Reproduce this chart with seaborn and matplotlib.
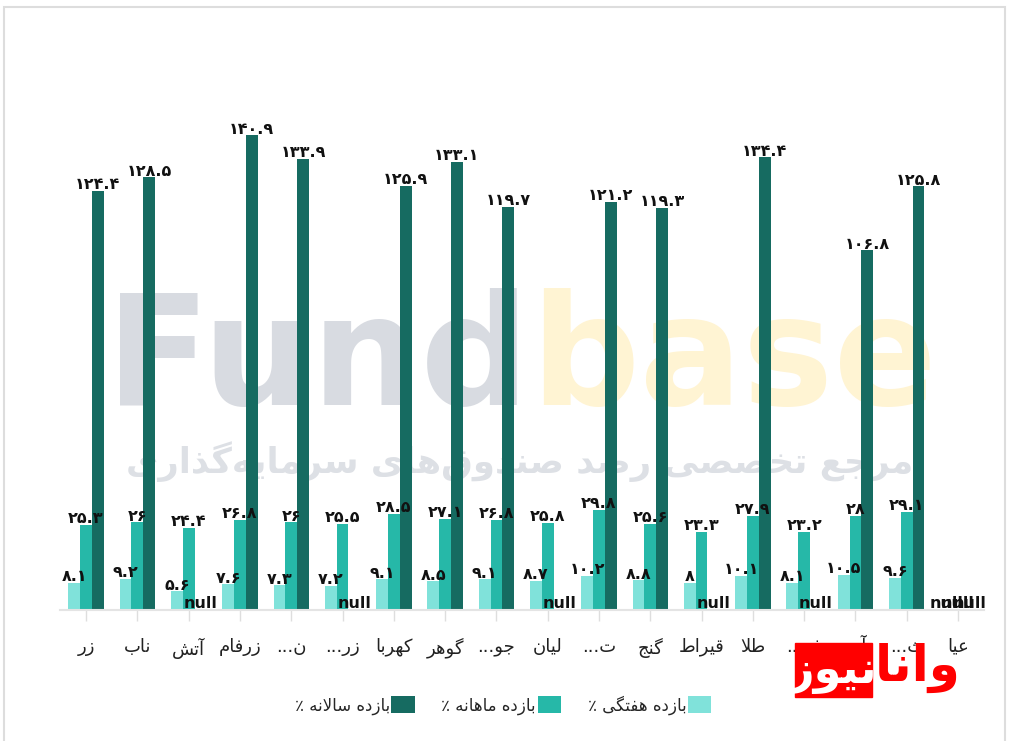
import numpy as np
import pandas as pd
import seaborn as sns
import matplotlib.pyplot as plt
from matplotlib.patches import Patch, Rectangle

categories = ["زر", "ناب", "آتش", "زرفام", "ن...", "زر...", "کهربا", "گوهر", "جو...",
              "لیان", "ت...", "گنج", "قیراط", "طلا", "ف...", "آ...", "ث...", "عیا"]
weekly = [8.1, 9.2, 5.6, 7.6, 7.3, 7.2, 9.1, 8.5, 9.1, 8.7, 10.2, 8.8, 8, 10.1, 8.1, 10.5, 9.6, None]
monthly = [25.3, 26, 24.4, 26.8, 26, 25.5, 28.5, 27.1, 26.8, 25.8, 29.8, 25.6, 23.3, 27.9, 23.2, 28, 29.1, None]
annual = [124.4, 128.5, None, 140.9, 133.9, None, 125.9, 133.1, 119.7, None, 121.2, 119.3, None,
          134.4, None, 106.8, 125.8, None]
series = ["بازده هفتگی ٪", "بازده ماهانه ٪", "بازده سالانه ٪"]
colors = ["#80e2da", "#26b8a8", "#166b61"]

# simple persian shaping: (isolated, final, initial, medial)
FORMS = {
    "ا": (0xFE8D, 0xFE8E), "آ": (0xFE81, 0xFE82), "د": (0xFEA9, 0xFEAA), "ذ": (0xFEAB, 0xFEAC),
    "ر": (0xFEAD, 0xFEAE), "ز": (0xFEAF, 0xFEB0), "و": (0xFEED, 0xFEEE),
    "ب": (0xFE8F, 0xFE90, 0xFE91, 0xFE92), "ت": (0xFE95, 0xFE96, 0xFE97, 0xFE98),
    "ث": (0xFE99, 0xFE9A, 0xFE9B, 0xFE9C), "ج": (0xFE9D, 0xFE9E, 0xFE9F, 0xFEA0),
    "خ": (0xFEA5, 0xFEA6, 0xFEA7, 0xFEA8), "س": (0xFEB1, 0xFEB2, 0xFEB3, 0xFEB4),
    "ش": (0xFEB5, 0xFEB6, 0xFEB7, 0xFEB8), "ص": (0xFEB9, 0xFEBA, 0xFEBB, 0xFEBC),
    "ط": (0xFEC1, 0xFEC2, 0xFEC3, 0xFEC4), "ع": (0xFEC9, 0xFECA, 0xFECB, 0xFECC),
    "ف": (0xFED1, 0xFED2, 0xFED3, 0xFED4), "ق": (0xFED5, 0xFED6, 0xFED7, 0xFED8),
    "ل": (0xFEDD, 0xFEDE, 0xFEDF, 0xFEE0), "م": (0xFEE1, 0xFEE2, 0xFEE3, 0xFEE4),
    "ن": (0xFEE5, 0xFEE6, 0xFEE7, 0xFEE8), "ه": (0xFEE9, 0xFEEA, 0xFEEB, 0xFEEC),
    "ی": (0xFBFC, 0xFBFD, 0xFBFE, 0xFBFF), "ک": (0xFB8E, 0xFB8F, 0xFB90, 0xFB91),
    "گ": (0xFB92, 0xFB93, 0xFB94, 0xFB95),
}


def dual(c):
    return c in FORMS and len(FORMS[c]) == 4


def fa(text):
    chars = list(text)
    out = []
    i = 0
    while i < len(chars):
        c = chars[i]
        prev = chars[i - 1] if i > 0 else None
        nxt = chars[i + 1] if i + 1 < len(chars) else None
        if c not in FORMS:
            if c != "\u200c":
                out.append(c)
            i += 1
            continue
        jp = dual(prev)
        if c == "ل" and nxt in ("ا", "آ"):
            lig = (0xFEFB, 0xFEFC) if nxt == "ا" else (0xFEF5, 0xFEF6)
            out.append(chr(lig[1] if jp else lig[0]))
            i += 2
            continue
        f = FORMS[c]
        jn = dual(c) and nxt in FORMS
        if jp and jn:
            g = f[3]
        elif jp:
            g = f[1]
        elif jn:
            g = f[2]
        else:
            g = f[0]
        out.append(chr(g))
        i += 1
    return "".join(reversed(out))


def fa_num(v):
    if v is None or pd.isna(v):
        return "null"
    return "{:g}".format(v).translate(str.maketrans("0123456789", "۰۱۲۳۴۵۶۷۸۹"))


sns.set_style("white")
plt.rcParams["font.family"] = ["DejaVu Sans"]

rows = []
for name, vals in zip(series, [weekly, monthly, annual]):
    for cat, v in zip(categories, vals):
        rows.append({"cat": cat, "series": name, "value": np.nan if v is None else v})
df = pd.DataFrame(rows)
df["plot"] = df["value"].fillna(0)

fig = plt.figure(figsize=(10.19, 7.41), dpi=100)
ax = fig.add_axes([60.4 / 1019, 1 - 610 / 741, 923.3 / 1019, 539 / 741])

# watermark
fig.text(530 / 1019, 1 - 405 / 741, "Fund", ha="right", va="baseline", fontsize=110,
         fontweight="bold", color="#d8dbe1", zorder=0)
fig.text(530 / 1019, 1 - 405 / 741, "base", ha="left", va="baseline", fontsize=110,
         fontweight="bold", color="#fff4d3", zorder=0)
fig.text(520 / 1019, 1 - 462 / 741, fa("مرجع تخصصی رصد صندوق‌های سرمایه‌گذاری"), ha="center",
         va="center", fontsize=25.5, fontweight="bold", color="#dde0e5", zorder=0)
ax.set_zorder(1)
ax.patch.set_alpha(0)

sns.barplot(data=df, x="cat", y="plot", hue="series", order=categories, hue_order=series,
            palette=colors, width=0.69, saturation=1, errorbar=None, legend=False,
            linewidth=0, ax=ax)

for cont, vals in zip(ax.containers, [weekly, monthly, annual]):
    ax.bar_label(cont, labels=[fa_num(v) for v in vals], padding=-1, fontsize=11.5,
                 fontweight="bold", color="#111111")

ax.set_xlim(-0.5, len(categories) - 0.5)
ax.set_ylim(0, 160)
ax.set_xlabel("")
ax.set_ylabel("")
ax.set_yticks([])
ax.set_xticks(range(len(categories)))
ax.set_xticklabels(["..." + fa(c[:-3]) if c.endswith("...") else fa(c) for c in categories],
                   fontsize=13, color="#222222")
ax.tick_params(axis="x", length=8, width=1, color="#dedede", pad=12, bottom=True)
for s in ["left", "right", "top"]:
    ax.spines[s].set_visible(False)
ax.spines["bottom"].set_color("#e4e4e4")
ax.spines["bottom"].set_linewidth(1.5)

handles = [Patch(facecolor=c, edgecolor="none") for c in colors]
fig.legend(handles[::-1], [fa(s) for s in series[::-1]], loc="center", ncol=3,
           bbox_to_anchor=(503 / 1019, 1 - 705 / 741), frameon=False, markerfirst=False,
           fontsize=12, handlelength=1.4, handleheight=1.2, handletextpad=0.1, columnspacing=1.6)

# news logo
fig.patches.append(Rectangle((795 / 1019, 1 - 697 / 741), 77 / 1019, 54 / 741,
                             transform=fig.transFigure, color="#ff0000", zorder=5))
fig.text(833 / 1019, 1 - 672 / 741, fa("نیوز"), ha="center", va="center", fontsize=32,
         fontweight="bold", color="white", zorder=6)
fig.text(918 / 1019, 1 - 668 / 741, fa("وانا"), ha="center", va="center", fontsize=36,
         fontweight="bold", color="#ff0000", zorder=6)

fig.patches.append(Rectangle((4 / 1019, -0.01), 1001 / 1019, 1.01 - 7 / 741, transform=fig.transFigure,
                             fill=False, edgecolor="#dddddd", linewidth=1.5))

fig.savefig("out.png", dpi=100)
